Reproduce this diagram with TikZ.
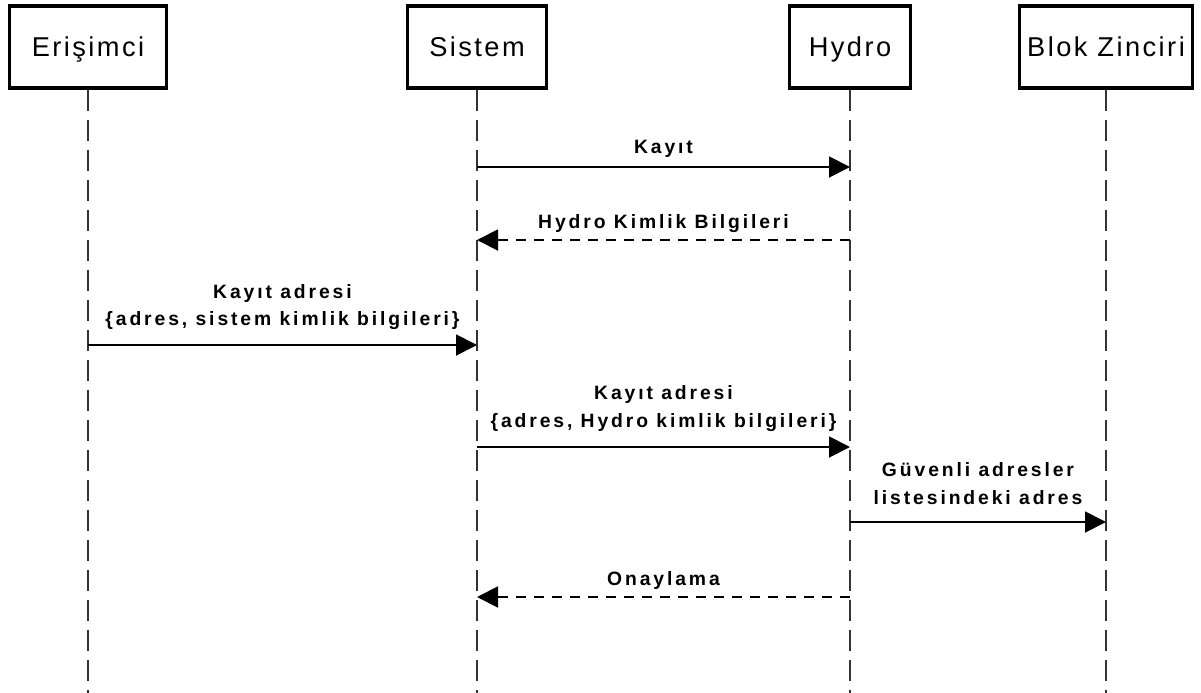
\documentclass[tikz,border=0pt]{standalone}
\usepackage{fontspec}
\usetikzlibrary{arrows.meta}

\newfontfamily\headfont[LetterSpace=9]{Liberation Sans}
\newfontfamily\msgfont[LetterSpace=15]{Liberation Sans}

\begin{document}
\begin{tikzpicture}[x=0.02cm, y=-0.02cm,
  actor/.style={draw, line width=2.2pt, minimum height=1.64cm, inner sep=0pt,
    text height=0.38cm, text depth=0pt,
    font=\headfont\fontsize{15.5}{18}\selectfont},
  life/.style={draw=black!80, line width=1.1pt, dash pattern=on 0.42cm off 0.18cm},
  msg/.style={line width=1.1pt, -{Triangle[length=0.42cm, width=0.42cm]}},
  reply/.style={msg, dash pattern=on 0.2cm off 0.16cm},
  lbl/.style={above, inner sep=0pt, outer sep=0pt, align=center, text depth=0pt,
    font=\msgfont\bfseries\fontsize{11}{15.4}\selectfont}]

 \useasboundingbox (0,0) rectangle (1201,693);

 % participants
 \node (eri)  [actor, minimum width=3.14cm] at (88,47)   {Erişimci};
 \node (sis)  [actor, minimum width=2.78cm] at (477,47)  {Sistem};
 \node (hyd)  [actor, minimum width=2.42cm] at (850,47)  {Hydro};
 \node (blok) [actor, minimum width=3.46cm] at (1106,47) {Blok Zinciri};

 % lifelines
 \foreach \p in {eri,sis,hyd,blok}
   \draw[life] (\p.south) -- (\p |- 0,693);

 % messages
 \draw[msg]   (sis |- 0,167) -- node[lbl, yshift=0.28cm] {Kayıt} (hyd |- 0,167);
 \draw[reply] (hyd |- 0,240) -- node[lbl, yshift=0.24cm] {Hydro Kimlik Bilgileri} (sis |- 0,240);
 \draw[msg]   (eri |- 0,345) -- node[lbl, yshift=0.39cm] {Kayıt adresi\\\{adres, sistem kimlik bilgileri\}} (sis |- 0,345);
 \draw[msg]   (sis |- 0,447) -- node[lbl, yshift=0.40cm] {Kayıt adresi\\\{adres, Hydro kimlik bilgileri\}} (hyd |- 0,447);
 \draw[msg]   (hyd |- 0,522) -- node[lbl, yshift=0.36cm] {Güvenli adresler\\listesindeki adres} (blok |- 0,522);
 \draw[reply] (hyd |- 0,597) -- node[lbl, yshift=0.24cm] {Onaylama} (sis |- 0,597);
\end{tikzpicture}
\end{document}
